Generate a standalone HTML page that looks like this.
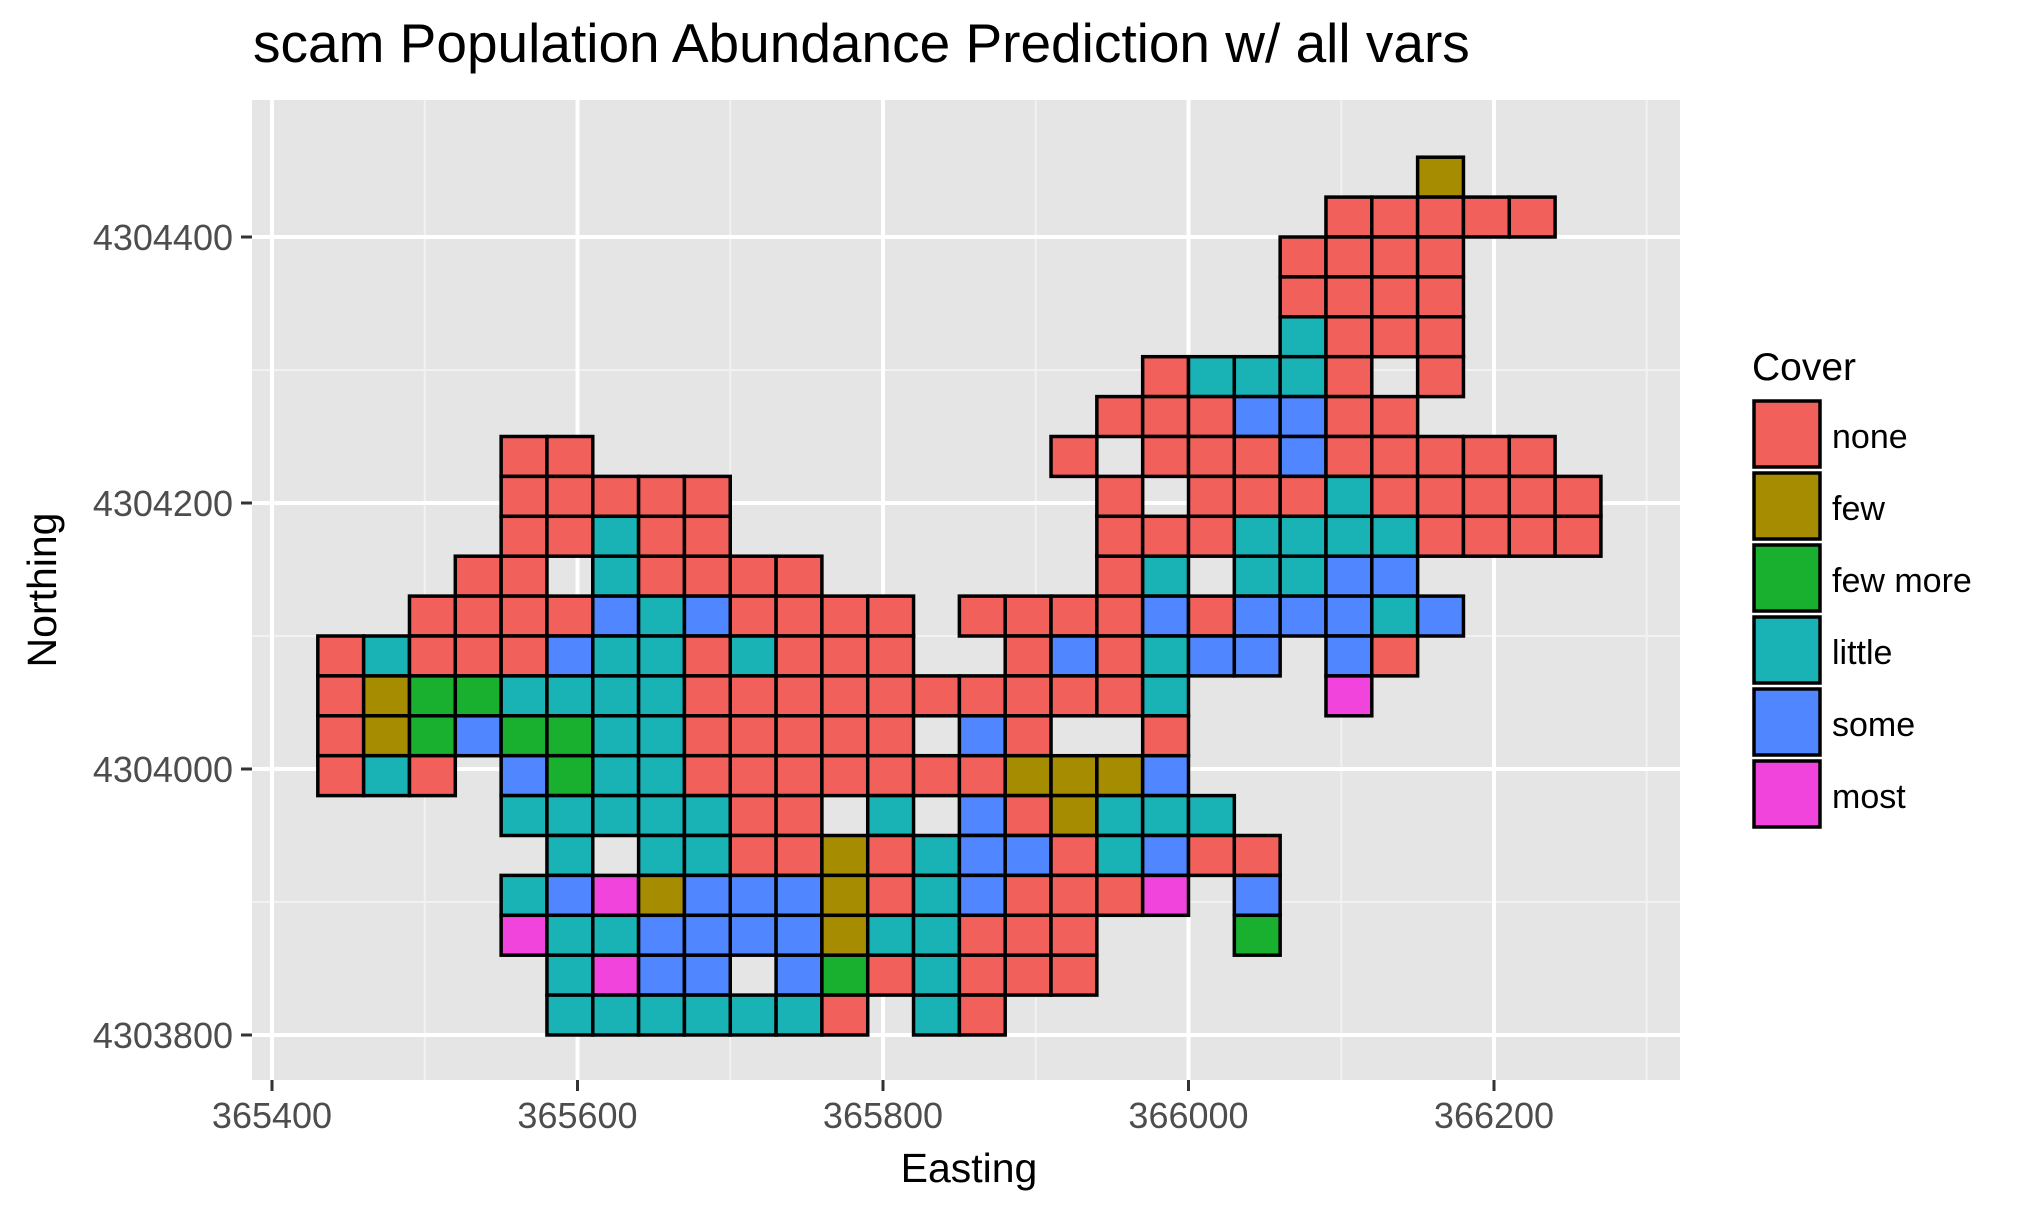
<!DOCTYPE html>
<html><head><meta charset="utf-8"><style>
html,body{margin:0;padding:0;background:#fff;}
svg{display:block;font-family:"Liberation Sans",sans-serif;}
</style></head><body>
<svg id="chart" width="2029" height="1216" viewBox="0 0 2029 1216" xmlns="http://www.w3.org/2000/svg">
<rect x="0" y="0" width="2029" height="1216" fill="#fff"/>
<text x="253" y="62" font-size="55" fill="#000">scam Population Abundance Prediction w/ all vars</text>
<rect x="252" y="100" width="1428" height="980" fill="#e5e5e5"/>
<g id="grid"></g>
<g id="tiles"></g>
<g id="axes"></g>
<text x="969" y="1182" font-size="41" text-anchor="middle" fill="#000">Easting</text>
<text x="0" y="0" font-size="41" text-anchor="middle" fill="#000" transform="translate(56,590) rotate(-90)">Northing</text>
<g id="legend">
<text x="1752" y="380" font-size="39" fill="#000">Cover</text>
</g>
</svg>
<script>
// Grid data: rows from north (top) to south, columns west to east.
// Codes: n=none f=few g=few more l=little s=some m=most .=empty
const originEasting = 365445;
const originNorthing = 4304445;
const cellSize = 30;
const gridRows = [
"........................f...",
"......................nnnnn.",
".....................nnnn...",
".....................nnnn...",
".....................lnnn...",
"..................nllln.n...",
".................nnnssnn....",
"....nn..........n.nnnsnnnnn.",
"....nnnnn........n.nnnlnnnnn",
"....nnlnn........nnnllllnnnn",
"...nn.lnnnn......nl.llss....",
"..nnnnslsnnnn.nnnnsnsssls...",
"nlnnnsllnlnnn..nsnlss.sn....",
"nfggllllnnnnnnnnnnl...m.....",
"nfgsggllnnnnn.sn..n.........",
"nln.sgllnnnnnnnfffs.........",
"....lllllnn.l.snflll........",
".....l.llnnfnlssnlsnn.......",
"....lsmfsssfnlsnnnm.s.......",
"....mllssssfllnnn...g.......",
".....lmss.sgnlnnn...........",
".....lllllln.ln............."
];
const categoryCodes = ["n","f","g","l","s","m"];
const categoryLabels = ["none","few","few more","little","some","most"];
const xTicks = [365400,365600,365800,366000,366200];
const yTicks = [4303800,4304000,4304200,4304400];
const xMinor = [365500,365700,365900,366100,366300];
const yMinor = [4303900,4304100,4304300];

const fillMap = ["#F2605C","#A68C00","#19B030","#19B3B6","#5086FF","#F044DC"];
function xs(e){return 272 + (e-365400)*1.5275;}
function ys(n){return 237 + (4304400-n)*1.33;}
const NS="http://www.w3.org/2000/svg";
function mk(tag,attrs,parent){const el=document.createElementNS(NS,tag);for(const k in attrs)el.setAttribute(k,attrs[k]);parent.appendChild(el);return el;}

const grid=document.getElementById('grid');
xMinor.forEach(v=>{const l=mk('line',{x1:xs(v),x2:xs(v),y1:100,y2:1080,stroke:'#f2f2f2','stroke-width':2},grid);

});
yMinor.forEach(v=>{const l=mk('line',{x1:252,x2:1680,y1:ys(v),y2:ys(v),stroke:'#f2f2f2','stroke-width':2},grid);

});
xTicks.forEach(v=>{const l=mk('line',{x1:xs(v),x2:xs(v),y1:100,y2:1080,stroke:'#fff','stroke-width':4},grid);

});
yTicks.forEach(v=>{const l=mk('line',{x1:252,x2:1680,y1:ys(v),y2:ys(v),stroke:'#fff','stroke-width':4},grid);

});

const tiles=document.getElementById('tiles');
const cw = cellSize*1.5275, ch = cellSize*1.33;
gridRows.forEach((row,r)=>{
  for(let c=0;c<row.length;c++){
    const code=row[c]; const idx=categoryCodes.indexOf(code);
    if(idx<0) continue;
    const e=originEasting+c*cellSize, n=originNorthing-r*cellSize;
    const t=mk('rect',{x:xs(e)-cw/2,y:ys(n)-ch/2,width:cw,height:ch,fill:fillMap[idx],stroke:'#000','stroke-width':3.5},tiles);
    
    
  }
});

const axes=document.getElementById('axes');
xTicks.forEach(v=>{
  const l=mk('line',{x1:xs(v),x2:xs(v),y1:1080,y2:1091,stroke:'#333','stroke-width':3},axes);
  
  
  const t=mk('text',{x:xs(v),y:1128,'font-size':36,'text-anchor':'middle',fill:'#4d4d4d'},axes);
  t.textContent=v;
  
  
});
yTicks.forEach(v=>{
  const l=mk('line',{x1:241,x2:252,y1:ys(v),y2:ys(v),stroke:'#333','stroke-width':3},axes);
  
  
  const t=mk('text',{x:233,y:ys(v)+13,'font-size':36,'text-anchor':'end',fill:'#4d4d4d'},axes);
  t.textContent=v;
  
  
});

const legend=document.getElementById('legend');
categoryLabels.forEach((lab,i)=>{
  const y0=401+i*72;
  const k=mk('rect',{x:1754,y:y0,width:66,height:66,fill:fillMap[i],stroke:'#000','stroke-width':3.5},legend);
  
  
  const t=mk('text',{x:1832,y:y0+47,'font-size':34,fill:'#000'},legend);
  t.textContent=lab;
  
  
});
</script>
</body></html>
